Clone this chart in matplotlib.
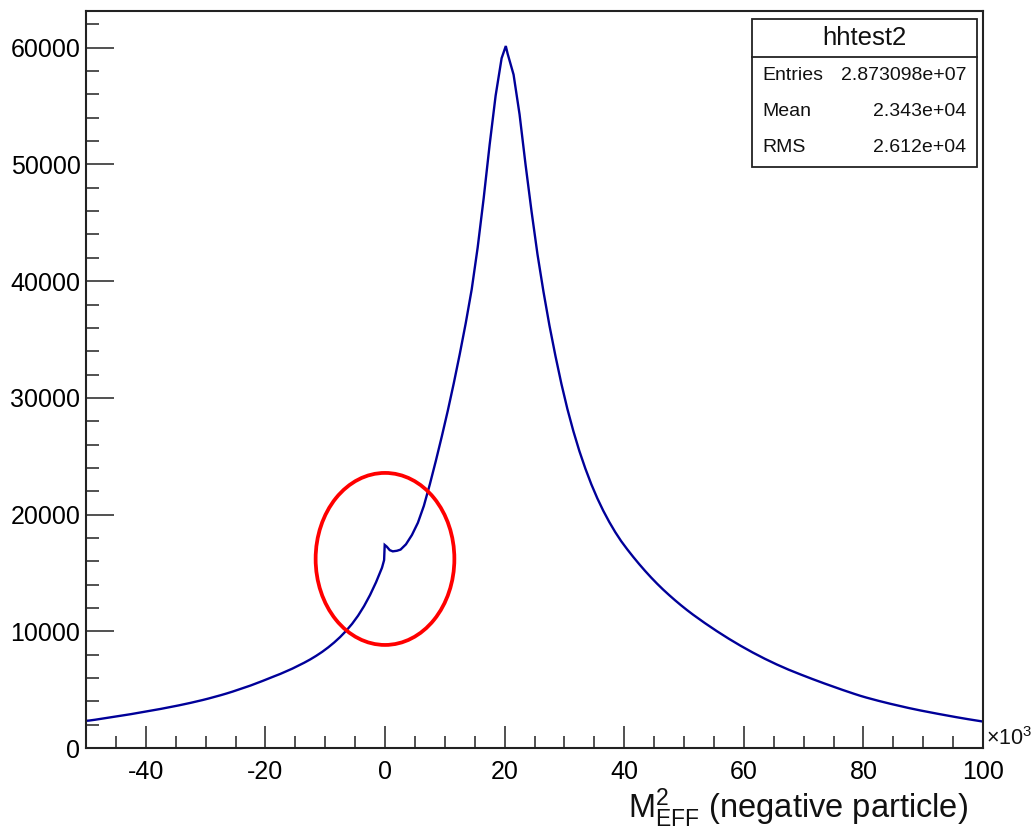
import matplotlib
matplotlib.use('Agg')
import matplotlib.pyplot as plt
import numpy as np
from matplotlib.patches import Ellipse, Rectangle
from matplotlib.lines import Line2D
from matplotlib.ticker import MultipleLocator

plt.rcParams['font.family'] = ['Liberation Sans', 'DejaVu Sans']
plt.rcParams['axes.unicode_minus'] = False
plt.rcParams['mathtext.fontset'] = 'custom'
plt.rcParams['mathtext.rm'] = 'Liberation Sans'
plt.rcParams['mathtext.it'] = 'Liberation Sans:italic'
plt.rcParams['mathtext.bf'] = 'Liberation Sans:bold'

# ---------------- data (x in units of 10^3) ----------------
x_min, x_max = -50, 100

# left tail: x = -50, -49.5, -48.5, ..., -0.5
x_left = [-50.0] + [-49.5 + i for i in range(50)]
y_left = [2330, 2350, 2420, 2500, 2580, 2660, 2740, 2820, 2900, 2990, 3080,
          3170, 3260, 3350, 3450, 3550, 3650, 3760, 3870, 3990, 4110,
          4240, 4380, 4520, 4670, 4830, 5000, 5170, 5350, 5540, 5740,
          5950, 6150, 6350, 6570, 6800, 7050, 7310, 7590, 7900, 8240,
          8620, 9040, 9510, 10040, 10640, 11340, 12160, 13110, 14200, 15450]

# the small step near zero
x_glitch = [-0.15, -0.05, 0.3, 0.8, 1.3, 2.0, 2.6, 3.1]
y_glitch = [16100, 17400, 17250, 16950, 16850, 16900, 17000, 17250]

# rising edge and peak: x = 3.5, 4.5, ..., 19.5, then peak
x_rise = [3.5 + i for i in range(17)] + [20.2]
y_rise = [17450, 18250, 19300, 20750, 22600, 24600, 26700, 28900, 31250, 33750,
          36400, 39300, 42900, 47100, 51700, 55900, 59100, 60150]

# falling edge: x = 20.5, 21.5, ..., 39.5
x_fall = [20.5 + i for i in range(20)]
y_fall = [59500, 57700, 54300, 50000, 46000, 42300, 39100, 36200, 33600, 31200,
          29050, 27150, 25450, 23950, 22600, 21400, 20330, 19370, 18500, 17720]

# right tail: x = 40.5, ..., 99.5, 100
x_tail = [40.5 + i for i in range(60)] + [100.0]
y_tail = [17030, 16380, 15760, 15170, 14610, 14080, 13580, 13110, 12660, 12230,
          11820, 11430, 11060, 10700, 10350, 10010, 9680, 9360, 9050, 8750,
          8460, 8180, 7910, 7650, 7400, 7160, 6930, 6710, 6500, 6300,
          6100, 5905, 5713, 5525, 5340, 5160, 4980, 4805, 4635, 4470,
          4320, 4180, 4045, 3915, 3790, 3670, 3550, 3435, 3325, 3220,
          3120, 3020, 2925, 2830, 2735, 2645, 2555, 2470, 2385, 2305, 2265]

x_pts = np.array(x_left + x_glitch + x_rise + x_fall + x_tail)
y_pts = np.array(y_left + y_glitch + y_rise + y_fall + y_tail, dtype=float)

stats_title = "hhtest2"
stats_names = ["Entries", "Mean", "RMS"]
stats_values = ["2.873098e+07", "2.343e+04", "2.612e+04"]

x_label = r"$\mathrm{M}^{2}_{\mathrm{EFF}}$ (negative particle)"

# hand-drawn annotation ellipse (data units)
ell_center = (0.0, 16200)
ell_width, ell_height = 23.2, 14740

# ---------------- figure ----------------
W, H = 1035, 832
fig = plt.figure(figsize=(W / 100, H / 100), dpi=100)
ax_left, ax_right, ax_top, ax_bottom = 86, 983, 11, 748
ax = fig.add_axes([ax_left / W, (H - ax_bottom) / H,
                   (ax_right - ax_left) / W, (ax_bottom - ax_top) / H])

ax.plot(x_pts, y_pts, color='#000099', lw=1.7, solid_joinstyle='miter')
ax.add_patch(Ellipse(ell_center, ell_width, ell_height, fill=False,
                     ec='#ff0000', lw=2.7, zorder=5))

ax.set_xlim(x_min, x_max)
ax.set_ylim(0, 63150)

ax.xaxis.set_major_locator(MultipleLocator(20))
ax.xaxis.set_minor_locator(MultipleLocator(5))
ax.yaxis.set_major_locator(MultipleLocator(10000))
ax.yaxis.set_minor_locator(MultipleLocator(2000))

ax.tick_params(axis='x', which='major', direction='in', length=15.5, width=1.1,
               labelsize=18, pad=8.5, top=False, color='#222222')
ax.tick_params(axis='x', which='minor', direction='in', length=9, width=1.1,
               top=False, color='#222222')
ax.tick_params(axis='y', which='major', direction='in', length=20, width=1.1,
               labelsize=18, pad=4, right=False, color='#222222')
ax.tick_params(axis='y', which='minor', direction='in', length=9.5, width=1.1,
               right=False, color='#222222')
for sp in ax.spines.values():
    sp.set_linewidth(1.5)
    sp.set_color('#222222')

# x-axis title and exponent
fig.text(968 / W, (H - 818) / H, x_label, ha='right', va='baseline',
         fontsize=23.5, color='#111111')
fig.text(986 / W, (H - 739) / H, r"$\times$10$^{3}$", ha='left', va='center',
         fontsize=15.5, color='#111111')

# ---------------- stats box ----------------
def fx(px):
    return px / W

def fy(py):
    return (H - py) / H

bx0, bx1, by0, by1, bsep = 752, 977, 19, 167, 57
fig.add_artist(Rectangle((fx(bx0), fy(by1)), fx(bx1) - fx(bx0), fy(by0) - fy(by1),
                         transform=fig.transFigure, fill=True, fc='white',
                         ec='#222222', lw=1.3, zorder=10))
fig.add_artist(Line2D([fx(bx0), fx(bx1)], [fy(bsep), fy(bsep)],
                      transform=fig.transFigure, color='#222222', lw=1.3, zorder=11))
fig.text(fx((bx0 + bx1) / 2), fy((by0 + bsep) / 2), stats_title, ha='center',
         va='center', fontsize=18.5, zorder=12, color='#111111')
row_y = [75, 112, 148]
for name, val, ry in zip(stats_names, stats_values, row_y):
    fig.text(fx(762), fy(ry), name, ha='left', va='center', fontsize=14,
             zorder=12, color='#111111')
    fig.text(fx(966), fy(ry), val, ha='right', va='center', fontsize=14,
             zorder=12, color='#111111')

fig.savefig('out.png', dpi=100)
